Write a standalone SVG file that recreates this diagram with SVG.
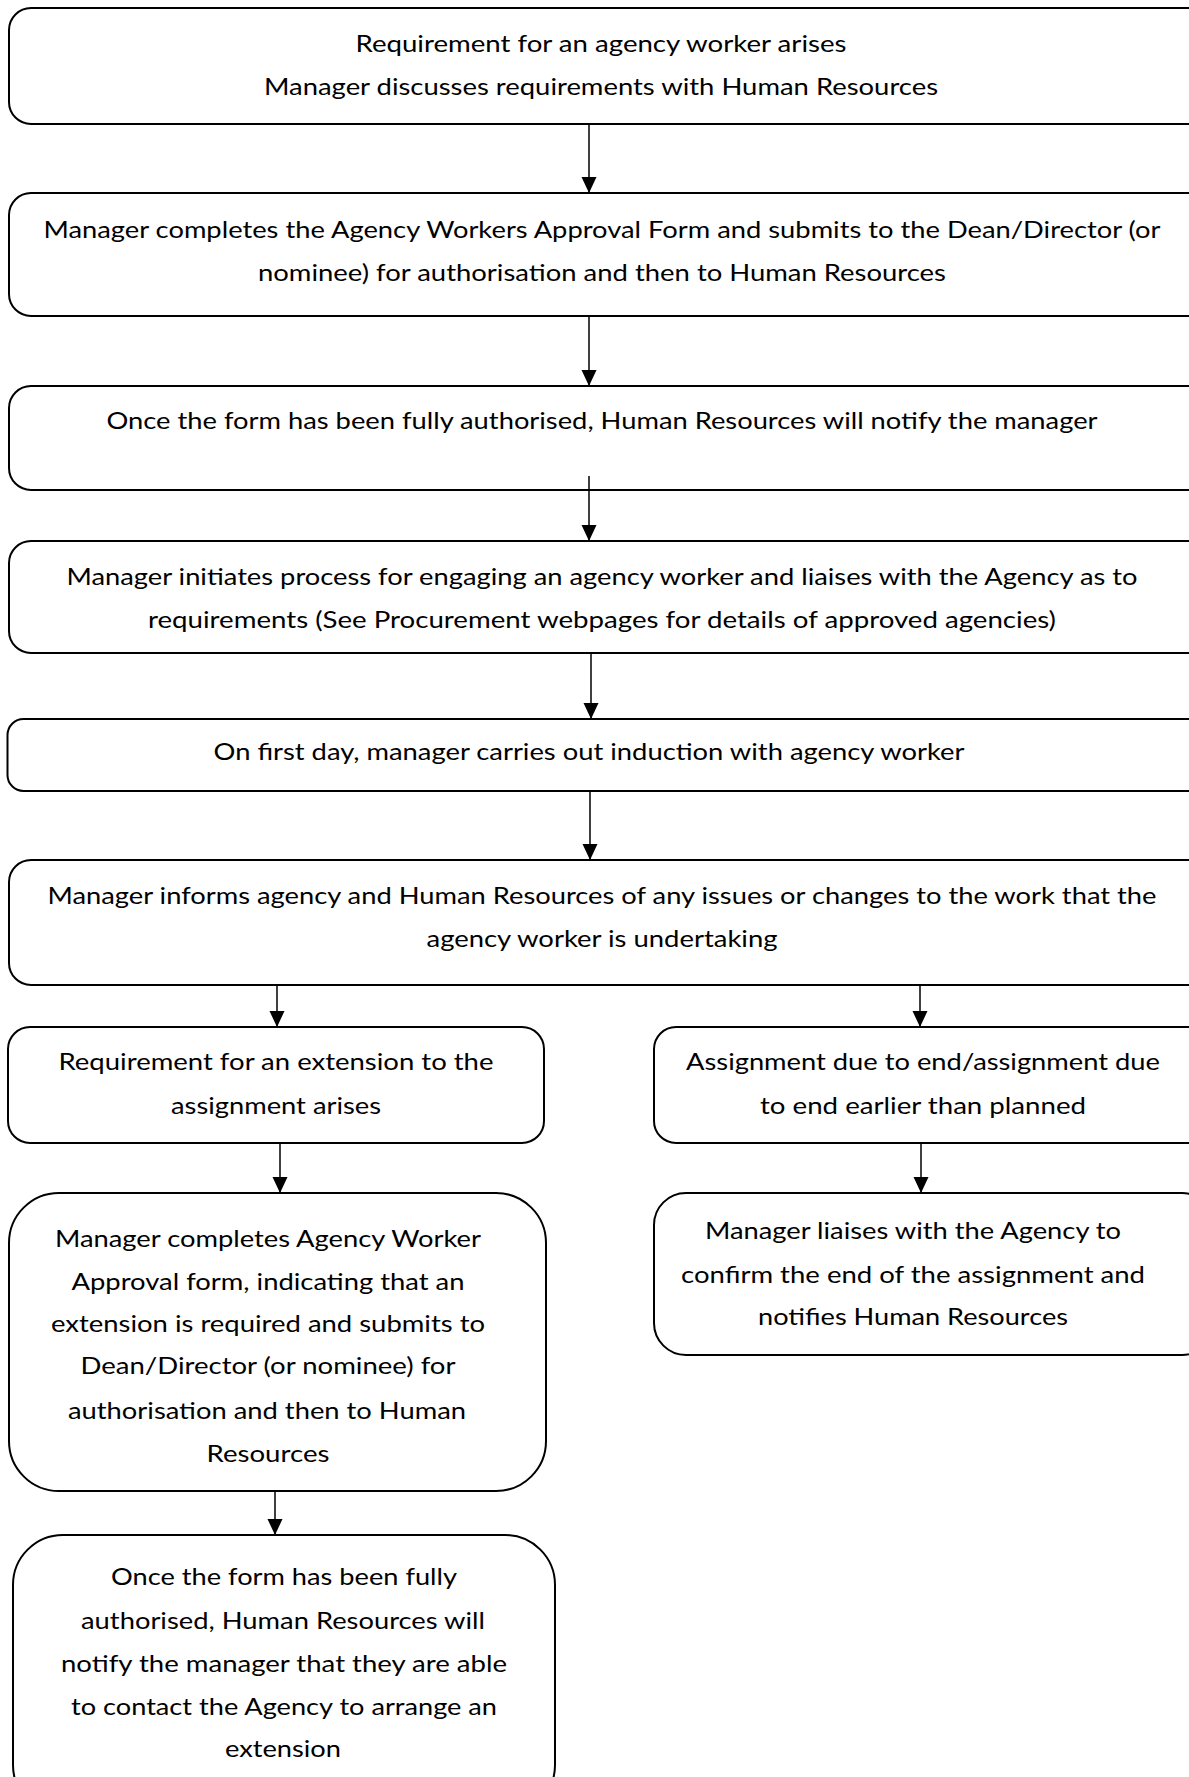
<svg xmlns="http://www.w3.org/2000/svg" width="1189" height="1777" viewBox="0 0 1189 1777">
<style>
.box{fill:#fff;stroke:#000;stroke-width:2}
.t{font-family:Lato,"Open Sans","Liberation Sans",sans-serif;font-size:24px;fill:#000;text-anchor:middle}
.c{stroke:#000;stroke-width:1.5;fill:none}
</style>
<defs>
<marker id="ah" markerUnits="userSpaceOnUse" markerWidth="16" markerHeight="16" viewBox="0 0 16 16" refX="16" refY="8" orient="auto">
<path d="M0,0.5 L16,8 L0,15.5 Z" fill="#000"/>
</marker>
</defs>
<rect width="1189" height="1777" fill="#fff"/>
<g id="connectors">
<line class="c" x1="589" y1="124" x2="589" y2="193" marker-end="url(#ah)"/>
<line class="c" x1="589" y1="316" x2="589" y2="386" marker-end="url(#ah)"/>
<line class="c" x1="589" y1="476" x2="589" y2="541" marker-end="url(#ah)"/>
<line class="c" x1="591" y1="653" x2="591" y2="719" marker-end="url(#ah)"/>
<line class="c" x1="590" y1="791" x2="590" y2="860" marker-end="url(#ah)"/>
<line class="c" x1="277" y1="985" x2="277" y2="1027" marker-end="url(#ah)"/>
<line class="c" x1="920" y1="985" x2="920" y2="1027" marker-end="url(#ah)"/>
<line class="c" x1="280" y1="1143" x2="280" y2="1193" marker-end="url(#ah)"/>
<line class="c" x1="921" y1="1143" x2="921" y2="1193" marker-end="url(#ah)"/>
<line class="c" x1="275" y1="1491" x2="275" y2="1535" marker-end="url(#ah)"/>
</g>
<g id="n1">
<rect class="box" x="9" y="8" width="1200" height="116" rx="22"/>
<text class="t" x="601" y="52" textLength="491" lengthAdjust="spacingAndGlyphs">Requirement for an agency worker arises</text>
<text class="t" x="601" y="95" textLength="674" lengthAdjust="spacingAndGlyphs">Manager discusses requirements with Human Resources</text>
</g>
<g id="n2">
<rect class="box" x="9" y="193" width="1200" height="123" rx="22"/>
<text class="t" x="602" y="238" textLength="1117" lengthAdjust="spacingAndGlyphs">Manager completes the Agency Workers Approval Form and submits to the Dean/Director (or</text>
<text class="t" x="602" y="281" textLength="688" lengthAdjust="spacingAndGlyphs">nominee) for authorisation and then to Human Resources</text>
</g>
<g id="n3">
<rect class="box" x="9" y="386" width="1200" height="104" rx="22"/>
<text class="t" x="602" y="429" textLength="991" lengthAdjust="spacingAndGlyphs">Once the form has been fully authorised, Human Resources will notify the manager</text>
</g>
<line class="c" x1="589" y1="476" x2="589" y2="490"/>
<g id="n4">
<rect class="box" x="9" y="541" width="1200" height="112" rx="22"/>
<text class="t" x="602" y="585" textLength="1071" lengthAdjust="spacingAndGlyphs">Manager initiates process for engaging an agency worker and liaises with the Agency as to</text>
<text class="t" x="602" y="628" textLength="908" lengthAdjust="spacingAndGlyphs">requirements (See Procurement webpages for details of approved agencies)</text>
</g>
<g id="n5">
<rect class="box" x="7.5" y="719" width="1200" height="72" rx="16"/>
<text class="t" x="589" y="760" textLength="751" lengthAdjust="spacingAndGlyphs">On first day, manager carries out induction with agency worker</text>
</g>
<g id="n6">
<rect class="box" x="9" y="860" width="1200" height="125" rx="22"/>
<text class="t" x="602" y="904" textLength="1109" lengthAdjust="spacingAndGlyphs">Manager informs agency and Human Resources of any issues or changes to the work that the</text>
<text class="t" x="602" y="947" textLength="351" lengthAdjust="spacingAndGlyphs">agency worker is undertaking</text>
</g>
<g id="n7">
<rect class="box" x="8" y="1027" width="536" height="116" rx="22"/>
<text class="t" x="276" y="1070" textLength="435" lengthAdjust="spacingAndGlyphs">Requirement for an extension to the</text>
<text class="t" x="276" y="1114" textLength="210" lengthAdjust="spacingAndGlyphs">assignment arises</text>
</g>
<g id="n8">
<rect class="box" x="654" y="1027" width="560" height="116" rx="22"/>
<text class="t" x="923" y="1070" textLength="474" lengthAdjust="spacingAndGlyphs">Assignment due to end/assignment due</text>
<text class="t" x="923" y="1114" textLength="326" lengthAdjust="spacingAndGlyphs">to end earlier than planned</text>
</g>
<g id="n9">
<rect class="box" x="9" y="1193" width="537" height="298" rx="50"/>
<text class="t" x="268" y="1247" textLength="426" lengthAdjust="spacingAndGlyphs">Manager completes Agency Worker</text>
<text class="t" x="268" y="1290" textLength="393" lengthAdjust="spacingAndGlyphs">Approval form, indicating that an</text>
<text class="t" x="268" y="1332" textLength="434" lengthAdjust="spacingAndGlyphs">extension is required and submits to</text>
<text class="t" x="268" y="1374" textLength="375" lengthAdjust="spacingAndGlyphs">Dean/Director (or nominee) for</text>
<text class="t" x="267" y="1419" textLength="398" lengthAdjust="spacingAndGlyphs">authorisation and then to Human</text>
<text class="t" x="268" y="1462" textLength="123" lengthAdjust="spacingAndGlyphs">Resources</text>
</g>
<g id="n10">
<rect class="box" x="654" y="1193" width="560" height="162" rx="32"/>
<text class="t" x="913" y="1239" textLength="416" lengthAdjust="spacingAndGlyphs">Manager liaises with the Agency to</text>
<text class="t" x="913" y="1283" textLength="464" lengthAdjust="spacingAndGlyphs">confirm the end of the assignment and</text>
<text class="t" x="913" y="1325" textLength="310" lengthAdjust="spacingAndGlyphs">notifies Human Resources</text>
</g>
<g id="n11">
<rect class="box" x="13" y="1535" width="542" height="280" rx="50"/>
<text class="t" x="284" y="1585" textLength="346" lengthAdjust="spacingAndGlyphs">Once the form has been fully</text>
<text class="t" x="283" y="1629" textLength="404" lengthAdjust="spacingAndGlyphs">authorised, Human Resources will</text>
<text class="t" x="284" y="1672" textLength="446" lengthAdjust="spacingAndGlyphs">notify the manager that they are able</text>
<text class="t" x="284" y="1715" textLength="426" lengthAdjust="spacingAndGlyphs">to contact the Agency to arrange an</text>
<text class="t" x="283" y="1757" textLength="116" lengthAdjust="spacingAndGlyphs">extension</text>
</g>
</svg>
